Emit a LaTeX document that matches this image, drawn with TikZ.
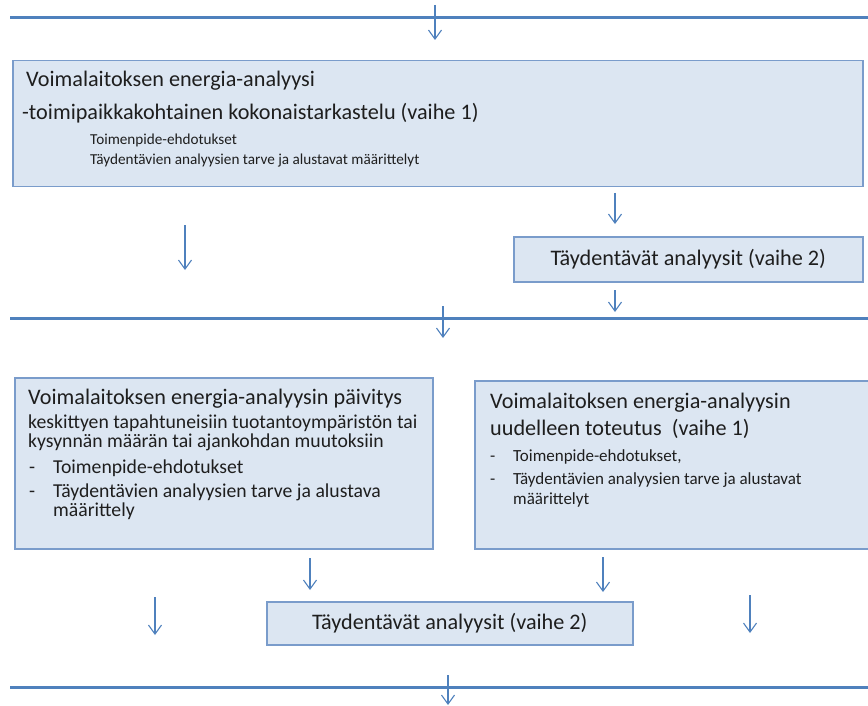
\documentclass[tikz,border=0pt]{standalone}
\usepackage{fontspec}
\setmainfont{Carlito}
\usetikzlibrary{arrows.meta}
\definecolor{lineblue}{HTML}{4F81BD}
\definecolor{boxfill}{HTML}{DCE6F2}
\definecolor{boxdraw}{HTML}{7A9CCB}
\definecolor{ink}{HTML}{1E1E1E}
\begin{document}
\begin{tikzpicture}[x=1pt,y=-1pt,
  bar/.style={draw=lineblue, line width=3pt},
  flow/.style={draw=lineblue, line width=1.1pt, -{Straight Barb[length=9pt,width=13pt]}},
  box/.style={draw=boxdraw, fill=boxfill, line width=1.5pt, anchor=north west, inner sep=0pt},
  txt/.style={anchor=base west, inner sep=0pt, text=ink},
  big/.style={txt, font=\fontsize{22.2}{24}\selectfont},
  mid/.style={txt, font=\fontsize{19.7}{22}\selectfont},
  sml/.style={txt, font=\fontsize{17}{19}\selectfont},
  tiny/.style={txt, font=\fontsize{15.2}{17}\selectfont}]
\useasboundingbox (0,0) rectangle (868,706);
\fill[white] (0,0) rectangle (868,706);

% horizontal bars
\coordinate (l1a) at (10,18); \coordinate (l1b) at (868,18);
\coordinate (l2a) at (10,318); \coordinate (l2b) at (868,318);
\coordinate (l3a) at (10,687); \coordinate (l3b) at (868,687);
\draw[bar] (l1a) -- (l1b);
\draw[bar] (l2a) -- (l2b);
\draw[bar] (l3a) -- (l3b);

% boxes
\node[box, minimum width=850, minimum height=126] (b1) at (12,60) {};
\node[box, minimum width=349, minimum height=45, font=\fontsize{22.2}{24}\selectfont, text=ink] (b2) at (513,236) {Täydentävät analyysit (vaihe 2)};
\node[box, minimum width=418, minimum height=171] (b3) at (14,377) {};
\node[box, minimum width=396, minimum height=168] (b4) at (474,380) {};
\node[box, minimum width=366, minimum height=43, font=\fontsize{22.2}{24}\selectfont, text=ink] (b5) at (266,601) {Täydentävät analyysit (vaihe 2)};

% box 1 text
\node[big] (t11) at (26,87) {Voimalaitoksen energia-analyysi};
\node[big] (t12) at (22,120) {-toimipaikkakohtainen kokonaistarkastelu (vaihe 1)};
\node[tiny] (t13) at (90,145) {Toimenpide-ehdotukset};
\node[tiny] (t14) at (90,165) {Täydentävien analyysien tarve ja alustavat määrittelyt};

% box 3 text
\node[big] (t31) at (28,404) {Voimalaitoksen energia-analyysin päivitys};
\node[mid] (t32) at (28,428) {keskittyen tapahtuneisiin tuotantoympäristön tai};
\node[mid] (t33) at (28,447) {kysynnän määrän tai ajankohdan muutoksiin};
\node[mid] (d31) at (29,473) {-};
\node[mid] (t34) at (53,473) {Toimenpide-ehdotukset};
\node[mid] (d32) at (29,497) {-};
\node[mid] (t35) at (53,497) {Täydentävien analyysien tarve ja alustava};
\node[mid] (t36) at (53,516) {määrittely};

% box 4 text
\node[big] (t41) at (490,408) {Voimalaitoksen energia-analyysin};
\node[big] (t42) at (490,435) {uudelleen toteutus\ \ (vaihe 1)};
\node[sml] (d41) at (490,461) {-};
\node[sml] (t43) at (513,461) {Toimenpide-ehdotukset,};
\node[sml] (d42) at (490,484) {-};
\node[sml] (t44) at (513,484) {Täydentävien analyysien tarve ja alustavat};
\node[sml] (t45) at (513,504) {määrittelyt};

% arrows
\coordinate (a1s) at (435,5);   \coordinate (a1e) at (435,40);
\coordinate (a2s) at (615,193); \coordinate (a2e) at (615,224);
\coordinate (a3s) at (185,225); \coordinate (a3e) at (185,270);
\coordinate (a4s) at (615,290); \coordinate (a4e) at (615,312);
\coordinate (a5s) at (443,306); \coordinate (a5e) at (443,338);
\coordinate (a6s) at (310,558); \coordinate (a6e) at (310,590);
\coordinate (a7s) at (603,557); \coordinate (a7e) at (603,592);
\coordinate (a8s) at (155,597); \coordinate (a8e) at (155,635);
\coordinate (a9s) at (750,595); \coordinate (a9e) at (750,633);
\coordinate (a10s) at (448,675); \coordinate (a10e) at (448,705);
\foreach \i in {1,...,10} \draw[flow] (a\i s) -- (a\i e);
\end{tikzpicture}
\end{document}
